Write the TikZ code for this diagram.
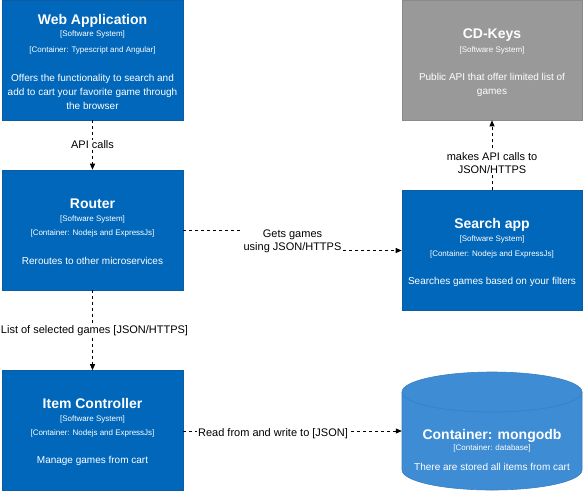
\documentclass[tikz,border=0pt]{standalone}
\usepackage{fontspec}
\setmainfont{Liberation Sans}
\usetikzlibrary{arrows.meta}
\definecolor{sysblue}{HTML}{0067BA}
\definecolor{sysstroke}{HTML}{0B5CA3}
\definecolor{extgray}{HTML}{999999}
\definecolor{extstroke}{HTML}{8A8A8A}
\definecolor{dbblue}{HTML}{3D8CD4}
\definecolor{dbstroke}{HTML}{3C7FC0}
\tikzset{
  sysbox/.style={draw=sysstroke, fill=sysblue, minimum width=181pt, minimum height=120pt, inner sep=0pt, line width=0.6pt},
  extbox/.style={draw=extstroke, fill=extgray, minimum width=180pt, minimum height=120pt, inner sep=0pt, line width=0.6pt},
  ttl/.style={text=white, font=\bfseries\fontsize{14}{16}\selectfont, inner sep=0pt, text height=10pt, text depth=0pt},
  sm/.style={text=white, font=\fontsize{8}{9}\selectfont, inner sep=0pt},
  desc/.style={text=white, font=\fontsize{10}{14}\selectfont, align=center, inner sep=0pt},
  lbl/.style={fill=white, text=black, font=\fontsize{11}{13}\selectfont, align=center, inner sep=1pt},
  edge/.style={draw=black, line width=0.8pt, dash pattern=on 3pt off 3pt, -{Triangle[length=6pt,width=5pt]}},
}
\begin{document}
\begin{tikzpicture}[x=1pt,y=-1pt]
\useasboundingbox (0,0) rectangle (583,491);
\fill[white] (0,0) rectangle (583,491);

% Web Application
\node[sysbox] (web) at (92.5,60) {};
\node[ttl] (webt) at (92.5,19) {Web Application};
\node[sm] (webs) at (92.5,34.5) {[Software System]};
\node[sm] (webc) at (92.5,50) {[Container: Typescript and Angular]};
\node[desc] (webd) at (92.5,91.5) {Offers the functionality to search and\\add to cart your favorite game through\\the browser};

% Router
\node[sysbox] (router) at (92.5,230) {};
\node[ttl] (routert) at (92.5,203) {Router};
\node[sm] (routers) at (92.5,219.5) {[Software System]};
\node[sm] (routerc) at (92.5,233) {[Container: Nodejs and ExpressJs]};
\node[desc] (routerd) at (92.5,260.5) {Reroutes to other microservices};

% Item Controller
\node[sysbox] (item) at (92.5,430.5) {};
\node[ttl] (itemt) at (92.5,403) {Item Controller};
\node[sm] (items) at (92.5,419) {[Software System]};
\node[sm] (itemc) at (92.5,433) {[Container: Nodejs and ExpressJs]};
\node[desc] (itemd) at (92.5,460.5) {Manage games from cart};

% CD-Keys
\node[extbox] (cd) at (492,60) {};
\node[ttl] (cdt) at (492,33) {CD-Keys};
\node[sm] (cds) at (492,50) {[Software System]};
\node[desc] (cdd) at (492,84.5) {Public API that offer limited list of\\games};

% Search app
\node[sysbox, minimum width=180pt] (search) at (492,250.5) {};
\node[ttl] (searcht) at (492,223) {Search app};
\node[sm] (searchs) at (492,239) {[Software System]};
\node[sm] (searchc) at (492,254) {[Container: Nodejs and ExpressJs]};
\node[desc] (searchd) at (492,281.5) {Searches games based on your filters};

% mongodb cylinder
\node[minimum width=180pt, minimum height=118pt, inner sep=0pt] (mongo) at (492,431) {};
\path[fill=dbblue, draw=dbstroke, line width=0.6pt]
  (402,392) -- (402,470) arc[start angle=180, end angle=360, x radius=90pt, y radius=20pt]
  -- (582,392) arc[start angle=0, end angle=180, x radius=90pt, y radius=20pt] -- cycle;
\draw[dbstroke, line width=0.6pt] (402,392) arc[start angle=180, end angle=360, x radius=90pt, y radius=20pt];
\node[ttl] (mongot) at (492,434) {Container: mongodb};
\node[sm] (mongos) at (492,448) {[Container: database]};
\node[desc] (mongod) at (492,466.5) {There are stored all items from cart};

% Edges
\draw[edge] (web.south) -- (router.north);
\node[lbl] (l1) at (92.5,145) {API calls};

\draw[edge] (router.south) -- (item.north);
\node[lbl] (l2) at (94.5,331) {List of selected games [JSON/HTTPS]};

\draw[edge] (search.north) -- (cd.south);
\node[lbl] (l3) at (492,163) {makes API calls to\\JSON/HTTPS};

\coordinate (bend) at (292.5,230);
\draw[edge] (router.east) -- (bend) |- (search.west);
\node[lbl] (l4) at (292.5,241) {Gets games\\using JSON/HTTPS};

\draw[edge] (item.east |- mongo.west) -- (mongo.west);
\node[lbl] (l5) at (273,434) {Read from and write to [JSON]};
\end{tikzpicture}
\end{document}
